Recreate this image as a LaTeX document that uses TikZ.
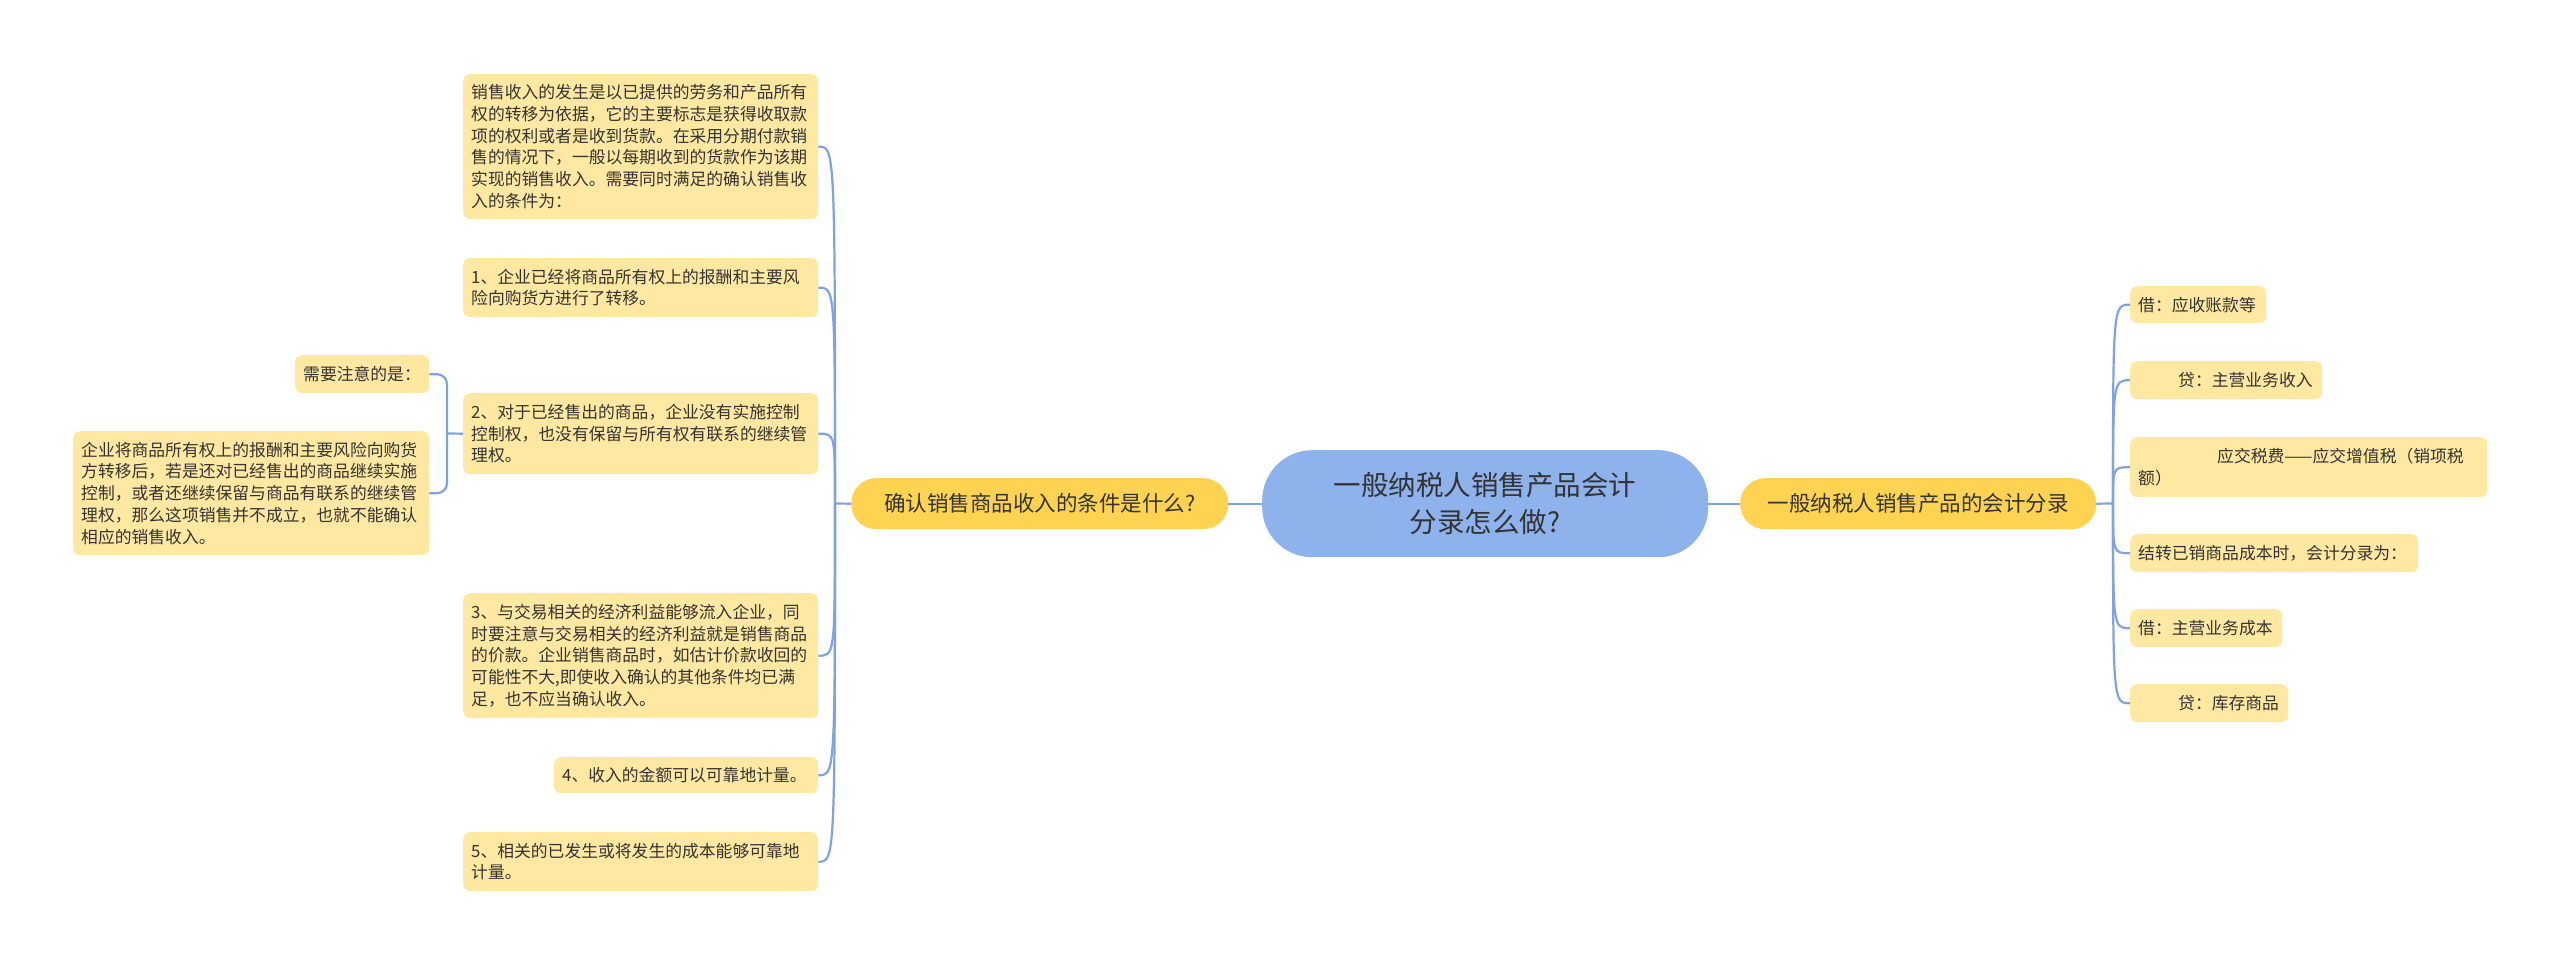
\documentclass[tikz,border=0pt]{standalone}
\usepackage{fontspec}
\setmainfont{Noto Sans CJK SC}
\definecolor{leafc}{HTML}{FFE8A2}
\definecolor{brc}{HTML}{FDD351}
\definecolor{rootc}{HTML}{8EB2EB}
\definecolor{connc}{HTML}{7FA3E0}
\definecolor{txt}{HTML}{333333}
\begin{document}
\begin{tikzpicture}[x=1pt,y=-1pt,
  leaf/.style={fill=leafc, rounded corners=7pt, inner xsep=8pt, inner ysep=0pt, anchor=north west, align=left, text=txt, font=\fontsize{16.8}{21.7}\selectfont},
  branch/.style={fill=brc, rounded corners=25pt, inner sep=0pt, anchor=north west, align=center, text=txt, font=\fontsize{21.5}{26}\selectfont},
  rootbox/.style={fill=rootc, rounded corners=50pt, inner sep=0pt, anchor=north west, align=center, text=txt, font=\fontsize{27.5}{37}\selectfont},
  conn/.style={draw=connc, line width=2.2pt}
]
\useasboundingbox[fill=white] (0,0) rectangle (2560,965);

% root and branches
\node[rootbox, minimum width=446pt, minimum height=107pt] (root) at (1262,450) {一般纳税人销售产品会计\\分录怎么做?};
\node[branch, minimum width=377pt, minimum height=51pt] (LB) at (851,478) {确认销售商品收入的条件是什么?};
\node[branch, minimum width=356pt, minimum height=51pt] (RB) at (1740,478) {一般纳税人销售产品的会计分录};

% left leaves
\node[leaf, minimum width=355pt, minimum height=145pt, text width=339pt] (L0) at (463,74) {销售收入的发生是以已提供的劳务和产品所有\\权的转移为依据，它的主要标志是获得收取款\\项的权利或者是收到货款。在采用分期付款销\\售的情况下，一般以每期收到的货款作为该期\\实现的销售收入。需要同时满足的确认销售收\\入的条件为：};
\node[leaf, minimum width=355pt, minimum height=59pt, text width=339pt] (L1) at (463,258) {1、企业已经将商品所有权上的报酬和主要风\\险向购货方进行了转移。};
\node[leaf, minimum width=355pt, minimum height=81pt, text width=339pt] (L2) at (463,393) {2、对于已经售出的商品，企业没有实施控制\\控制权，也没有保留与所有权有联系的继续管\\理权。};
\node[leaf, minimum width=355pt, minimum height=125pt, text width=339pt] (L3) at (463,593) {3、与交易相关的经济利益能够流入企业，同\\时要注意与交易相关的经济利益就是销售商品\\的价款。企业销售商品时，如估计价款收回的\\可能性不大,即使收入确认的其他条件均已满\\足，也不应当确认收入。};
\node[leaf, minimum width=264pt, minimum height=36pt, text width=248pt] (L4) at (554,757) {4、收入的金额可以可靠地计量。};
\node[leaf, minimum width=355pt, minimum height=59pt, text width=339pt] (L5) at (463,832) {5、相关的已发生或将发生的成本能够可靠地\\计量。};
\node[leaf, minimum width=134pt, minimum height=38pt, text width=118pt] (S1) at (295,355) {需要注意的是：};
\node[leaf, minimum width=356pt, minimum height=124pt, text width=340pt] (S2) at (73,431) {企业将商品所有权上的报酬和主要风险向购货\\方转移后，若是还对已经售出的商品继续实施\\控制，或者还继续保留与商品有联系的继续管\\理权，那么这项销售并不成立，也就不能确认\\相应的销售收入。};

% right leaves
\node[leaf, minimum width=136pt, minimum height=37pt, text width=120pt] (R0) at (2130,286) {借：应收账款等};
\node[leaf, minimum width=192pt, minimum height=38pt, text width=176pt] (R1) at (2130,361) {\hspace*{40pt}贷：主营业务收入};
\node[leaf, minimum width=357pt, minimum height=60pt, text width=341pt] (R2) at (2130,437) {\hspace*{79pt}应交税费——应交增值税（销项税\\额）};
\node[leaf, minimum width=288pt, minimum height=38pt, text width=272pt] (R3) at (2130,534) {结转已销商品成本时，会计分录为：};
\node[leaf, minimum width=152pt, minimum height=38pt, text width=136pt] (R4) at (2130,609) {借：主营业务成本};
\node[leaf, minimum width=158pt, minimum height=38pt, text width=142pt] (R5) at (2130,684) {\hspace*{40pt}贷：库存商品};

% connectors
\draw[conn] (root.west) -- (LB.east);
\draw[conn] (root.east) -- (RB.west);

\coordinate (TL) at (835,503.5);
\draw[conn] (LB.west) -- (TL);
\foreach \n in {L0,L1,L2,L3,L4,L5}
  \draw[conn] (TL) .. controls (TL |- \n.east) .. (\n.east);

\coordinate (TR) at (2113,503.5);
\draw[conn] (RB.east) -- (TR);
\foreach \n in {R0,R1,R2,R3,R4,R5}
  \draw[conn] (TR) .. controls (TR |- \n.west) .. (\n.west);

\coordinate (TS) at (447,433.5);
\draw[conn] (L2.west) -- (TS);
\draw[conn, rounded corners=10pt] (S1.east) -| (TS) |- (S2.east);
\end{tikzpicture}
\end{document}
